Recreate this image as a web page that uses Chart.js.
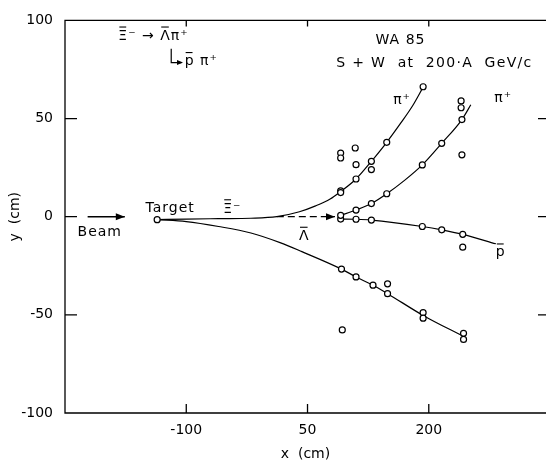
<!DOCTYPE html>
<html><head><meta charset="utf-8">
<script src="https://cdn.jsdelivr.net/npm/chart.js@4.4.0/dist/chart.umd.min.js"></script>
<style>html,body{margin:0;padding:0;background:#fff;}</style>
</head><body>
<canvas id="c" width="546" height="464"></canvas>
<script>
// ---- axis ticks ----
const xTicks = [-250, -100, 50, 200];
const xTickLabels = [-100, 50, 200];
const yTicks = [-100, -50, 0, 50, 100];

// ---- measured hits (circles) ----
const targetX = [-136];
const targetY = [-1.5];
const piLeftHitX = [91, 91, 110, 129, 148, 193];
const piLeftHitY = [13.2, 12.3, 19.2, 28.2, 37.9, 66.2];
const piRightHitX = [91, 110, 129, 148, 192, 216, 241];
const piRightHitY = [0.7, 3.4, 6.7, 11.7, 26.4, 37.4, 49.5];
const pbarHitX = [91, 110, 129, 192, 216, 242];
const pbarHitY = [-1.2, -1.3, -1.7, -5, -6.7, -9];
const lowerHitX = [92, 110, 131, 149, 193, 193, 243, 243];
const lowerHitY = [-26.7, -30.7, -34.9, -39.2, -48.9, -51.7, -59.4, -62.5];
const strayHitX = [91, 91, 109, 110, 129, 149, 93, 240, 240, 241, 242];
const strayHitY = [32.4, 29.9, 35, 26.5, 24, -34.2, -57.7, 59, 55.5, 31.5, -15.5];

// ---- fitted tracks ----
const xiPiX = [-136, -100, -60, -20, 12, 40, 60, 78, 91, 110, 129, 148, 165, 180, 193];
const xiPiY = [-1.5, -1.2, -1, -0.8, 0, 2.5, 5.5, 9, 12.8, 19.2, 28.2, 37.9, 47.5, 56.5, 66];
const piRightX = [91, 110, 129, 148, 170, 192, 216, 241, 252];
const piRightY = [0.7, 3.4, 6.7, 11.7, 18.5, 26.4, 37.4, 49.5, 57];
const pbarX = [91, 110, 129, 192, 216, 242, 283];
const pbarY = [-1.2, -1.3, -1.7, -5, -6.7, -9, -13.8];
const lowerX = [-136, -100, -60, -20, 16, 43, 92, 110, 131, 149, 193, 243];
const lowerY = [-1.5, -2.5, -5, -8.3, -13.2, -17.8, -26.7, -30.7, -34.9, -39.2, -50.3, -61];
const lambdaX = [12, 84];
const lambdaY = [0, 0];
const beamX = [-222, -176];
const beamY = [0, 0];

const pts = (xs, ys) => xs.map((x, i) => ({x: x, y: ys[i]}));

const hitStyle = {showLine: false, pointRadius: 3, pointHoverRadius: 3, pointBorderWidth: 1.2,
  pointBackgroundColor: '#fff', pointBorderColor: '#000'};
const lineStyle = {showLine: true, pointRadius: 0, borderColor: '#000', borderWidth: 1.2,
  cubicInterpolationMode: 'monotone', fill: false};

const FONT = '"DejaVu Sans", sans-serif';

function drawRich(ctx, pieces, x, y, align) {
  ctx.textAlign = 'left';
  ctx.textBaseline = 'alphabetic';
  const widths = pieces.map(p => ctx.measureText(p.t).width);
  const total = widths.reduce((a, b) => a + b, 0);
  let cx = align === 'center' ? x - total / 2 : x;
  pieces.forEach((p, i) => {
    ctx.fillText(p.t, cx, y);
    if (p.bar) {
      ctx.beginPath();
      ctx.moveTo(cx + 1, y - p.bar);
      ctx.lineTo(cx + widths[i] - 2, y - p.bar);
      ctx.stroke();
    }
    cx += widths[i];
  });
}

function arrowHead(ctx, x1, y1, x2, y2, len, half) {
  const a = Math.atan2(y2 - y1, x2 - x1);
  ctx.beginPath();
  ctx.moveTo(x2, y2);
  ctx.lineTo(x2 - len * Math.cos(a) + half * Math.sin(a), y2 - len * Math.sin(a) - half * Math.cos(a));
  ctx.lineTo(x2 - len * Math.cos(a) - half * Math.sin(a), y2 - len * Math.sin(a) + half * Math.cos(a));
  ctx.closePath();
  ctx.fill();
}

const decor = {
  id: 'decor',
  afterDraw(chart) {
    const ctx = chart.ctx;
    const xs = chart.scales.x, ys = chart.scales.y;
    const a = chart.chartArea;
    const X = v => xs.getPixelForValue(v), Y = v => ys.getPixelForValue(v);
    ctx.save();
    ctx.strokeStyle = '#000';
    ctx.fillStyle = '#000';
    ctx.lineWidth = 1.3;
    // frame (right side lies outside the picture)
    ctx.beginPath();
    ctx.moveTo(a.right, a.top); ctx.lineTo(a.left, a.top);
    ctx.lineTo(a.left, a.bottom); ctx.lineTo(a.right, a.bottom);
    ctx.stroke();
    // inward ticks
    ctx.beginPath();
    xs.ticks.forEach(t => {
      if (t.value <= xs.min || t.value >= xs.max) return;
      const px = X(t.value);
      ctx.moveTo(px, a.bottom); ctx.lineTo(px, a.bottom - 9);
      ctx.moveTo(px, a.top); ctx.lineTo(px, a.top + 6);
    });
    ys.ticks.forEach(t => {
      if (t.value <= ys.min || t.value >= ys.max) return;
      const py = Y(t.value);
      ctx.moveTo(a.left, py); ctx.lineTo(a.left + 12, py);
      ctx.moveTo(a.right, py); ctx.lineTo(a.right - 8, py);
    });
    ctx.stroke();

    // arrowheads for beam and lambda
    [chart.getDatasetMeta(6), chart.getDatasetMeta(7)].forEach(m => {
      const p = m.data;
      arrowHead(ctx, p[0].x, p[0].y, p[p.length - 1].x, p[p.length - 1].y, 9, 3.5);
    });

    // text labels
    ctx.lineWidth = 1.1;
    ctx.font = '14px ' + FONT;
    ctx.letterSpacing = '1px';
    drawRich(ctx, [{t: 'Target'}], X(-120), Y(2.5), 'center');
    drawRich(ctx, [{t: 'Beam'}], X(-207), Y(-10), 'center');
    drawRich(ctx, [{t: 'Ξ', bar: 13}, {t: '⁻'}], X(-43), Y(2), 'center');
    drawRich(ctx, [{t: 'Λ', bar: 13}], X(46), Y(-12), 'center');
    drawRich(ctx, [{t: 'p', bar: 12}], X(289), Y(-20), 'center');
    drawRich(ctx, [{t: 'π⁺'}], X(167), Y(57.5), 'center');
    drawRich(ctx, [{t: 'π⁺'}], X(292), Y(58.5), 'center');
    drawRich(ctx, [{t: 'WA 85'}], X(165), Y(88), 'center');
    ctx.letterSpacing = '1.3px';
    drawRich(ctx, [{t: 'S + W  at  200·A  GeV/c'}], X(207), Y(76.5), 'center');
    ctx.letterSpacing = '1px';
    drawRich(ctx, [{t: 'Ξ', bar: 13}, {t: '⁻ '}, {t: '→'}, {t: ' '}, {t: 'Λ', bar: 13}, {t: 'π⁺'}], X(-184), Y(90), 'left');
    // decay branch: L-shaped arrow
    ctx.lineWidth = 1.2;
    ctx.beginPath();
    ctx.moveTo(X(-118.6), Y(85.5)); ctx.lineTo(X(-118.6), Y(78.5)); ctx.lineTo(X(-106), Y(78.5));
    ctx.stroke();
    arrowHead(ctx, X(-118.6), Y(78.5), X(-104), Y(78.5), 6, 2.5);
    ctx.lineWidth = 1.1;
    drawRich(ctx, [{t: 'p', bar: 12}, {t: ' π⁺'}], X(-102), Y(77.5), 'left');
    ctx.restore();
  }
};

new Chart(document.getElementById('c'), {
  type: 'scatter',
  data: {
    datasets: [
      Object.assign({data: pts(targetX, targetY)}, hitStyle),
      Object.assign({data: pts(piLeftHitX, piLeftHitY)}, hitStyle),
      Object.assign({data: pts(piRightHitX, piRightHitY)}, hitStyle),
      Object.assign({data: pts(pbarHitX, pbarHitY)}, hitStyle),
      Object.assign({data: pts(lowerHitX, lowerHitY)}, hitStyle),
      Object.assign({data: pts(strayHitX, strayHitY)}, hitStyle),
      Object.assign({data: pts(beamX, beamY)}, lineStyle, {borderWidth: 1.5}),
      Object.assign({data: pts(lambdaX, lambdaY)}, lineStyle, {borderDash: [7, 4]}),
      Object.assign({data: pts(xiPiX, xiPiY)}, lineStyle),
      Object.assign({data: pts(piRightX, piRightY)}, lineStyle),
      Object.assign({data: pts(pbarX, pbarY)}, lineStyle),
      Object.assign({data: pts(lowerX, lowerY)}, lineStyle)
    ]
  },
  options: {
    responsive: false,
    animation: false,
    devicePixelRatio: 1,
    layout: {autoPadding: false, padding: {top: 13, right: 0, left: 0, bottom: 0}},
    plugins: {legend: {display: false}, tooltip: {enabled: false}},
    scales: {
      x: {
        type: 'linear', min: -250, max: 345,
        afterBuildTicks: s => { s.ticks = xTicks.map(v => ({value: v})); },
        afterFit: s => { s.height = 51; },
        grid: {display: false, drawTicks: false},
        border: {display: false},
        ticks: {
          padding: 9, color: '#000', font: {family: FONT, size: 14},
          callback: v => xTickLabels.includes(v) ? String(v) : ''
        },
        title: {display: true, text: 'x  (cm)', color: '#000', font: {family: FONT, size: 14},
          padding: {top: 0, bottom: 1}}
      },
      y: {
        type: 'linear', min: -100, max: 100,
        afterBuildTicks: s => { s.ticks = yTicks.map(v => ({value: v})); },
        afterFit: s => { s.width = 65; },
        grid: {display: false, drawTicks: false},
        border: {display: false},
        ticks: {padding: 12, color: '#000', font: {family: FONT, size: 14}},
        title: {display: true, text: 'y  (cm)', color: '#000', font: {family: FONT, size: 14},
          padding: {top: 7, bottom: 0}}
      }
    }
  },
  plugins: [decor]
});
</script>
</body></html>
